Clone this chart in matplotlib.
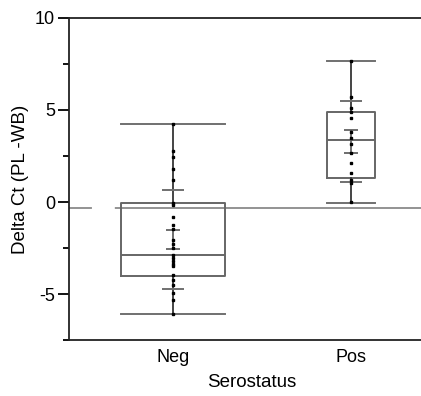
import matplotlib
matplotlib.use("Agg")
import matplotlib.pyplot as plt

plt.rcParams['font.family'] = ['Liberation Sans', 'DejaVu Sans']
plt.rcParams['lines.scale_dashes'] = False
plt.rcParams['axes.unicode_minus'] = False

# groups
groups = ["Neg", "Pos"]
box_widths = [0.58, 0.27]

# raw points
neg_vals = [4.24, 2.77, 2.45, 1.79, 1.20, -0.07, -0.16, -0.80, -1.25, -1.47,
            -2.07, -2.28, -2.50, -2.90, -3.05, -3.20, -3.35, -3.50, -3.97,
            -4.24, -4.50, -4.95, -5.30, -6.10]
pos_vals = [7.66, 5.72, 5.10, 4.90, 4.58, 3.82, 3.46, 3.15, 2.66, 2.12,
            1.58, 1.20, 1.03, 0.00]

# box stats
q1 = [-4.02, 1.32]
med = [-2.88, 3.37]
q3 = [-0.07, 4.91]
wlo = [-6.10, -0.04]
whi = [4.24, 7.66]

# mean, std error, std dev
means = [-2.04, 3.30]
se = [0.52, 0.62]
sd = [2.69, 2.20]

ref_y = -0.33

fig = plt.figure(figsize=(4.21, 3.96), dpi=100)
ax = fig.add_axes([0.164, 0.141, 0.836, 0.814])

pos = [1, 2]
stats = []
for i in range(2):
    stats.append(dict(med=med[i], q1=q1[i], q3=q3[i], whislo=wlo[i],
                      whishi=whi[i], fliers=[]))
ax.bxp(stats, positions=pos, widths=box_widths, capwidths=box_widths,
       showfliers=False, manage_ticks=False,
       boxprops=dict(color="#666666", lw=1.4),
       medianprops=dict(color="#666666", lw=1.4),
       whiskerprops=dict(color="#444444", lw=1.4),
       capprops=dict(color="#707070", lw=1.4))

# mean +- se and sd marks
for i, p in enumerate(pos):
    ax.errorbar(p, means[i], yerr=se[i], fmt="none", ecolor="#555555",
                elinewidth=1.2, capsize=5, capthick=1.2)
    ax.hlines([means[i] + sd[i], means[i] - sd[i]], p - 0.06, p + 0.06,
              colors="#707070", lw=1.4)

ax.axhline(ref_y, color="#8a8a8a", lw=1.3, zorder=1,
           linestyle=(0, (16.5, 16.5, 2000, 0)))

ax.plot([1] * len(neg_vals), neg_vals, "s", color="black", ms=2.0, zorder=5)
ax.plot([2] * len(pos_vals), pos_vals, "s", color="black", ms=2.0, zorder=5)

ax.set_xlim(0.416, 2.393)
ax.set_ylim(-7.5, 10)
ax.set_xticks(pos)
ax.set_xticklabels(groups)
ax.set_yticks([-5, 0, 5, 10])
ax.set_yticks([-7.5, -2.5, 2.5, 7.5], minor=True)
ax.tick_params(axis="y", which="major", length=8, width=1.3, pad=2, labelsize=13)
ax.tick_params(axis="y", which="minor", length=4, width=1.3)
ax.tick_params(axis="x", length=0, pad=6.5, labelsize=13)

for s in ["left", "top", "bottom"]:
    ax.spines[s].set_linewidth(1.3)
    ax.spines[s].set_color("#222222")
ax.spines["right"].set_visible(False)

ax.set_xlabel("Serostatus", fontsize=13.5, labelpad=4)
ax.xaxis.set_label_coords(0.52, -0.105)
ax.set_ylabel("Delta Ct (PL -WB)", fontsize=13.5, labelpad=4)

fig.savefig("out.png", dpi=100)
